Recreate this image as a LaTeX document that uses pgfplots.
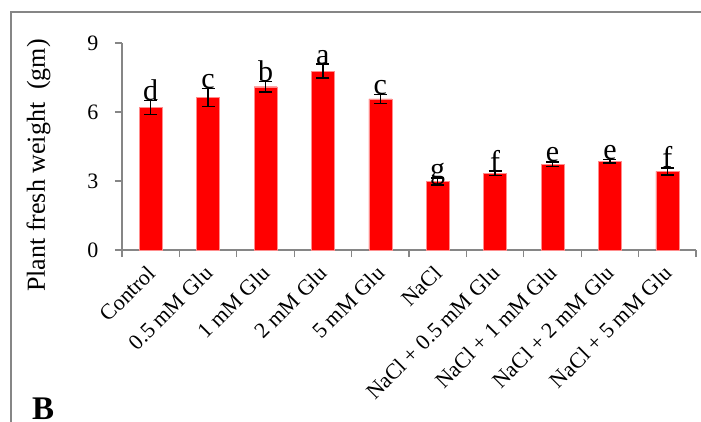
\documentclass[border=0pt]{standalone}
\usepackage{fontspec}
\setmainfont{Liberation Serif}
\usepackage{pgfplots}
\usepackage{pgfplotstable}
\pgfplotsset{compat=1.18}

\definecolor{axisgray}{RGB}{134,134,134}
\definecolor{barred}{RGB}{255,0,0}

% mean fresh weight (gm) and error for each treatment
\pgfplotstableread{
x  y     err
0  6.20  0.30
1  6.63  0.40
2  7.10  0.22
3  7.78  0.30
4  6.57  0.20
5  2.97  0.15
6  3.33  0.10
7  3.73  0.10
8  3.86  0.08
9  3.42  0.15
}\freshweight

\begin{document}
\begin{tikzpicture}
\path[use as bounding box, clip] (-122pt,-171pt) rectangle (579pt,250pt);
% outer frame of the panel
\draw[axisgray, line width=1.3pt] (-111pt,-200pt) -- (-111pt,238pt) -- (620pt,238pt);
\begin{axis}[
  at={(0pt,0pt)}, anchor=south west,
  scale only axis, width=574pt, height=207pt,
  xmin=-0.5, xmax=9.5, ymin=0, ymax=9,
  axis lines=left,
  axis line style={-, draw=axisgray, line width=1.3pt},
  clip=false,
  tick align=outside,
  ytick={0,3,6,9},
  major tick length=7pt, minor tick length=7pt,
  y tick style={draw=axisgray, line width=1.3pt},
  xtick={0,...,9},
  major x tick style={draw=none},
  minor xtick={-0.5,0.5,...,9.5},
  minor x tick style={draw=axisgray, line width=1.3pt},
  xticklabels={Control, 0.5 mM Glu, 1 mM Glu, 2 mM Glu, 5 mM Glu, NaCl,
    NaCl + 0.5 mM Glu, NaCl + 1 mM Glu, NaCl + 2 mM Glu, NaCl + 5 mM Glu},
  xticklabel style={xshift=-5pt, yshift=-7pt, rotate=45, anchor=north east, inner sep=0pt,
    font=\fontsize{22}{24}\selectfont},
  yticklabel style={font=\fontsize{22}{24}\selectfont, xshift=-13pt},
  /pgf/number format/assume math mode=true,
]
\addplot[ybar, bar width=23pt, fill=barred, draw=red!45,
  error bars/.cd, y dir=both, y explicit,
  error bar style={black, line width=1.5pt},
  error mark options={rotate=90, black, mark size=6.5pt, line width=1.5pt}]
  table[x=x, y=y, y error=err] {\freshweight};
% significance letters, set at the top of each error bar
\tikzset{sig/.style={anchor=base, inner sep=0pt, font=\fontsize{30}{32}\selectfont}}
\node[sig] at (axis cs:0,6.50) {d};
\node[sig] at (axis cs:1,7.03) {c};
\node[sig] at (axis cs:2,7.32) {b};
\node[sig] at (axis cs:3,8.08) {a};
\node[sig] at (axis cs:4,6.77) {c};
\node[sig] at (axis cs:5,3.12) {g};
\node[sig] at (axis cs:6,3.43) {f};
\node[sig] at (axis cs:7,3.83) {e};
\node[sig] at (axis cs:8,3.94) {e};
\node[sig] at (axis cs:9,3.57) {f};
\end{axis}
\node[rotate=90, font=\fontsize{26}{28}\selectfont] at (-83.5pt,84.5pt) {Plant fresh weight\ \ (gm)};
\node[anchor=base west, inner sep=0pt, font=\fontsize{33}{35}\selectfont\bfseries] at (-90pt,-169pt) {B};
\end{tikzpicture}
\end{document}
